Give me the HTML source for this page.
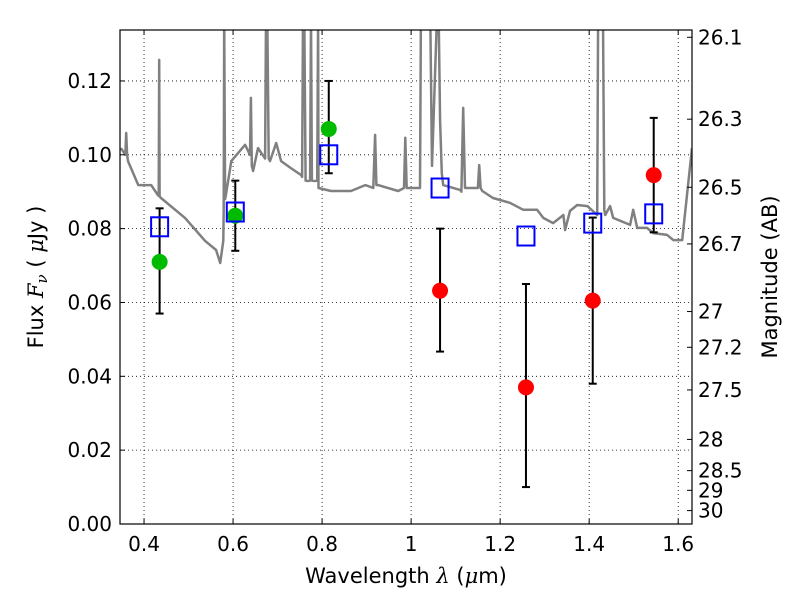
<!DOCTYPE html>
<html><head><meta charset="utf-8"><style>
body{margin:0;background:#fff}
svg text{font-family:"DejaVu Sans","Liberation Sans",sans-serif;fill:#000}
</style></head><body>
<svg id="chart" width="800" height="600" viewBox="0 0 800 600" xmlns="http://www.w3.org/2000/svg">
<defs><clipPath id="clip"><rect x="120" y="30" width="572" height="494"/></clipPath></defs>
<rect x="0" y="0" width="800" height="600" fill="#fff"/>
<g id="grid"></g>
<g id="spec" clip-path="url(#clip)"></g>
<g id="marks" clip-path="url(#clip)"></g>
<rect x="120" y="30" width="572" height="494" fill="none" stroke="#000" stroke-width="1.2"/>
<g id="axes"></g>
<text x="406" y="583" font-size="21" text-anchor="middle">Wavelength  <tspan font-family="DejaVu Serif" font-style="italic">λ</tspan> (<tspan font-family="DejaVu Serif" font-style="italic">μ</tspan>m)</text>
<text transform="translate(43,277) rotate(-90)" font-size="21" text-anchor="middle">Flux  <tspan font-family="DejaVu Serif" font-style="italic">F<tspan font-size="15" dy="4">ν</tspan></tspan><tspan dy="-4">  ( </tspan><tspan font-family="DejaVu Serif" font-style="italic">μ</tspan>Jy )</text>
<text transform="translate(777,277) rotate(-90)" font-size="21" text-anchor="middle">Magnitude (AB)</text>
</svg>
<script>
const xTicks=[0.4,0.6,0.8,1.0,1.2,1.4,1.6];
const xTickLabels=["0.4","0.6","0.8","1","1.2","1.4","1.6"];
const yTicks=[0,0.02,0.04,0.06,0.08,0.10,0.12];
const yTickLabels=["0.00","0.02","0.04","0.06","0.08","0.10","0.12"];
const magTicks=[26.1,26.3,26.5,26.7,27,27.2,27.5,28,28.5,29,30];
const magTickLabels=["26.1","26.3","26.5","26.7","27","27.2","27.5","28","28.5","29","30"];
const specLambda=[0.348,0.358,0.360,0.362,0.364,0.387,0.416,0.431,0.433,0.434,0.435,0.438,0.492,0.537,0.562,0.571,0.578,0.579,0.580,0.582,0.584,0.596,0.627,0.638,0.640,0.642,0.645,0.656,0.672,0.674,0.677,0.680,0.683,0.697,0.708,0.730,0.753,0.755,0.757,0.760,0.763,0.769,0.773,0.775,0.777,0.784,0.789,0.791,0.792,0.820,0.865,0.897,0.915,0.919,0.922,0.926,0.971,0.984,0.987,0.990,0.993,1.020,1.022,1.043,1.047,1.058,1.062,1.065,1.069,1.072,1.110,1.113,1.117,1.121,1.126,1.148,1.150,1.153,1.156,1.160,1.184,1.222,1.252,1.283,1.297,1.319,1.342,1.346,1.357,1.373,1.396,1.418,1.420,1.431,1.434,1.436,1.447,1.454,1.492,1.499,1.508,1.530,1.544,1.575,1.589,1.609,1.631];
const specFlux=[0.1018,0.100,0.1059,0.100,0.0983,0.0918,0.0918,0.0891,0.0889,0.1257,0.0887,0.0883,0.0829,0.0767,0.0742,0.0707,0.0767,0.085,0.137,0.088,0.0891,0.0983,0.1027,0.100,0.1154,0.097,0.0956,0.1018,0.099,0.137,0.137,0.099,0.0983,0.1032,0.0983,0.0964,0.0945,0.094,0.137,0.137,0.093,0.0929,0.093,0.137,0.093,0.0929,0.093,0.137,0.0910,0.0902,0.0902,0.0918,0.091,0.1054,0.0918,0.0918,0.0902,0.091,0.1046,0.091,0.0910,0.0910,0.137,0.137,0.0970,0.137,0.137,0.1091,0.095,0.0918,0.0905,0.090,0.1127,0.091,0.0910,0.0910,0.091,0.0972,0.091,0.0902,0.0883,0.0870,0.0851,0.0851,0.0829,0.0815,0.0837,0.0796,0.0848,0.0864,0.0861,0.0837,0.137,0.137,0.085,0.0837,0.0861,0.0829,0.0810,0.0851,0.0802,0.0802,0.0788,0.0783,0.0769,0.0769,0.1018];
const bandLambda=[0.435,0.605,0.815,1.065,1.258,1.408,1.545];
const obsFlux=[0.071,0.0835,0.107,0.0632,0.037,0.0605,0.0945];
const errLow=[0.057,0.074,0.095,0.0467,0.010,0.038,0.079];
const errHigh=[0.0855,0.093,0.120,0.080,0.065,0.083,0.110];
const obsColor=["#00bb00","#00bb00","#00bb00","#ff0000","#ff0000","#ff0000","#ff0000"];
const modelFlux=[0.0805,0.0845,0.100,0.091,0.078,0.0815,0.084];

const NS="http://www.w3.org/2000/svg";
const X0=120,X1=692,Y0=30,Y1=524,xmin=0.346,xmax=1.631,ymin=0,ymax=0.1338;
function sx(v){return X0+(v-xmin)/(xmax-xmin)*(X1-X0);}
function sy(v){return Y1-(v-ymin)/(ymax-ymin)*(Y1-Y0);}
function magToFlux(m){return Math.pow(10,(23.9-m)/2.5);}
function mk(tag,attrs,parent){const e=document.createElementNS(NS,tag);for(const k in attrs)e.setAttribute(k,attrs[k]);parent.appendChild(e);return e;}
const grid=document.getElementById('grid'),axes=document.getElementById('axes'),spec=document.getElementById('spec'),marks=document.getElementById('marks');
xTicks.forEach((t,i)=>{const x=sx(t);
 const g=mk('line',{x1:x,x2:x,y1:Y0,y2:Y1,stroke:'#000','stroke-width':0.8,'stroke-dasharray':'1,3'},grid);
 
 mk('line',{x1:x,x2:x,y1:Y1,y2:Y1-5,stroke:'#000'},axes);mk('line',{x1:x,x2:x,y1:Y0,y2:Y0+5,stroke:'#000'},axes);
 const tx=mk('text',{x:x,y:Y1+27,'font-size':20,'text-anchor':'middle'},axes);tx.textContent=xTickLabels[i];
 });
yTicks.forEach((t,i)=>{const y=sy(t);
 if(t>0){const g=mk('line',{x1:X0,x2:X1,y1:y,y2:y,stroke:'#000','stroke-width':0.8,'stroke-dasharray':'1,3'},grid);
 }
 mk('line',{x1:X0,x2:X0+5,y1:y,y2:y,stroke:'#000'},axes);
 const tx=mk('text',{x:X0-8,y:y+7,'font-size':20,'text-anchor':'end'},axes);tx.textContent=yTickLabels[i];
 });
magTicks.forEach((m,i)=>{const y=sy(magToFlux(m));
 mk('line',{x1:X1,x2:X1-5,y1:y,y2:y,stroke:'#000'},axes);
 const tx=mk('text',{x:X1+6,y:y+7,'font-size':20,'text-anchor':'start'},axes);tx.textContent=magTickLabels[i];
 });
const pts=specLambda.map((l,i)=>sx(l).toFixed(1)+','+sy(specFlux[i]).toFixed(1)).join(' ');
const pl=mk('polyline',{points:pts,fill:'none',stroke:'#808080','stroke-width':2.5,'stroke-linejoin':'round'},spec);

bandLambda.forEach((l,i)=>{const x=sx(l);
 const eb=mk('g',{stroke:'#000','stroke-width':2},marks);
 
 mk('line',{x1:x,x2:x,y1:sy(errLow[i]),y2:sy(errHigh[i])},eb);
 mk('line',{x1:x-4,x2:x+4,y1:sy(errLow[i]),y2:sy(errLow[i])},eb);
 mk('line',{x1:x-4,x2:x+4,y1:sy(errHigh[i]),y2:sy(errHigh[i])},eb);
 const c=mk('circle',{cx:x,cy:sy(obsFlux[i]),r:8,fill:obsColor[i]},marks);
 
 const s=mk('rect',{x:x-8.5,y:sy(modelFlux[i])-9.5,width:17,height:19,fill:'none',stroke:'#0000ff','stroke-width':2},marks);
 });
</script>
</body></html>
